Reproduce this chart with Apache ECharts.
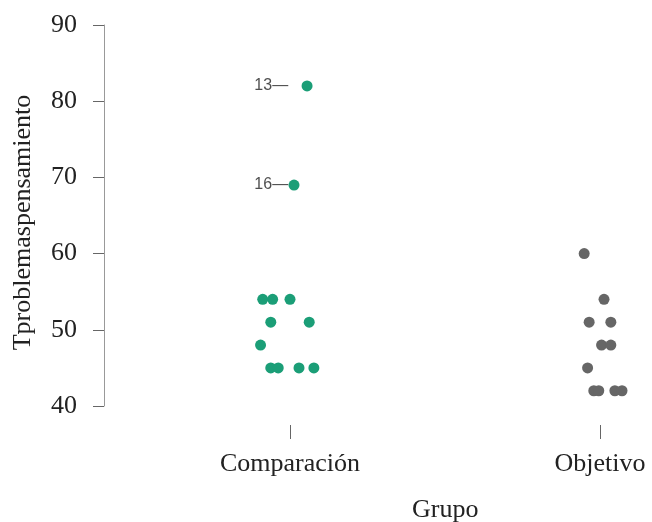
<!DOCTYPE html>
<html>
<head>
<meta charset="utf-8">
<script src="https://cdn.jsdelivr.net/npm/echarts@6/dist/echarts.min.js"></script>
<style>
  html, body { margin: 0; padding: 0; background: #fff; }
  #main { width: 652px; height: 522px; }
</style>
</head>
<body>
<div id="main"></div>
<script>
// grupos y sus posiciones en el eje x
var groups = ['Comparación', 'Objetivo']
var groupPos = [1, 2]

// valores y desplazamiento horizontal (jitter)
var comparacionValues = [82, 69, 54, 54, 54, 51, 51, 48, 45, 45, 45, 45]
var comparacionJitter = [0.055, 0.013, -0.088, -0.056, 0.0, -0.062, 0.062, -0.095, -0.062, -0.038, 0.029, 0.077]
var objetivoValues = [60, 54, 51, 51, 48, 48, 45, 42, 42, 42, 42]
var objetivoJitter = [-0.051, 0.013, -0.035, 0.035, 0.005, 0.035, -0.040, -0.020, -0.004, 0.048, 0.071]

// etiquetas de casos atípicos
var outlierIds = ['13', '16']
var outlierValues = [82, 69]

var yTicks = [40, 50, 60, 70, 80, 90]

var serif = '"Liberation Serif", "Times New Roman", serif'

function toPoints(pos, values, jitter) {
  return values.map(function (v, i) { return [pos + jitter[i], v] })
}

var chartDom = document.getElementById('main')
var myChart = echarts.init(chartDom)

var option = {
  animation: false,
  grid: {
    left: 104,
    right: 5.5,
    top: 25,
    bottom: 116,
    outerBoundsMode: 'none',
  },
  xAxis: {
    type: 'value',
    min: 0.4,
    max: 2.15,
    offset: 19,
    name: 'Grupo',
    nameLocation: 'middle',
    nameGap: 72,
    // centrado entre los dos grupos, como en el original
    nameTextStyle: { fontFamily: serif, fontSize: 26, color: '#222', padding: [0, 0, 0, 140] },
    axisLine: { show: false },
    splitLine: { show: false },
    axisTick: {
      show: true,
      length: 14,
      customValues: groupPos,
      lineStyle: { color: '#666', width: 1 },
    },
    axisLabel: {
      customValues: groupPos,
      margin: 26,
      fontFamily: serif,
      fontSize: 26,
      color: '#222',
      formatter: function (v) {
        return groups[groupPos.indexOf(v)]
      },
    },
  },
  yAxis: {
    type: 'value',
    min: 40,
    max: 90,
    interval: 10,
    name: 'Tproblemaspensamiento',
    nameLocation: 'middle',
    nameGap: 68,
    nameTextStyle: { fontFamily: serif, fontSize: 26, color: '#222', padding: [0, 14, 0, 0] },
    axisLine: { show: true, lineStyle: { color: '#999', width: 1 } },
    axisTick: { show: true, length: 11, lineStyle: { color: '#666', width: 1 } },
    splitLine: { show: false },
    axisLabel: {
      customValues: yTicks,
      margin: 27,
      fontFamily: serif,
      fontSize: 26,
      color: '#222',
    },
  },
  series: [
    {
      type: 'scatter',
      symbolSize: 11,
      itemStyle: { color: '#1b9e77', opacity: 1 },
      data: toPoints(groupPos[0], comparacionValues, comparacionJitter),
    },
    {
      type: 'scatter',
      symbolSize: 11,
      itemStyle: { color: '#666666', opacity: 1 },
      data: toPoints(groupPos[1], objetivoValues, objetivoJitter),
    },
    {
      // etiquetas de los atípicos, a la izquierda del grupo
      type: 'scatter',
      symbolSize: 0,
      silent: true,
      data: outlierValues.map(function (v, i) {
        return { value: [groupPos[0] - 0.006, v], name: outlierIds[i] }
      }),
      label: {
        show: true,
        position: 'left',
        distance: 0,
        formatter: '{b}—',
        fontFamily: '"Liberation Sans", Arial, sans-serif',
        fontSize: 16,
        color: '#222',
      },
    },
  ],
}

option && myChart.setOption(option)
</script>
</body>
</html>
